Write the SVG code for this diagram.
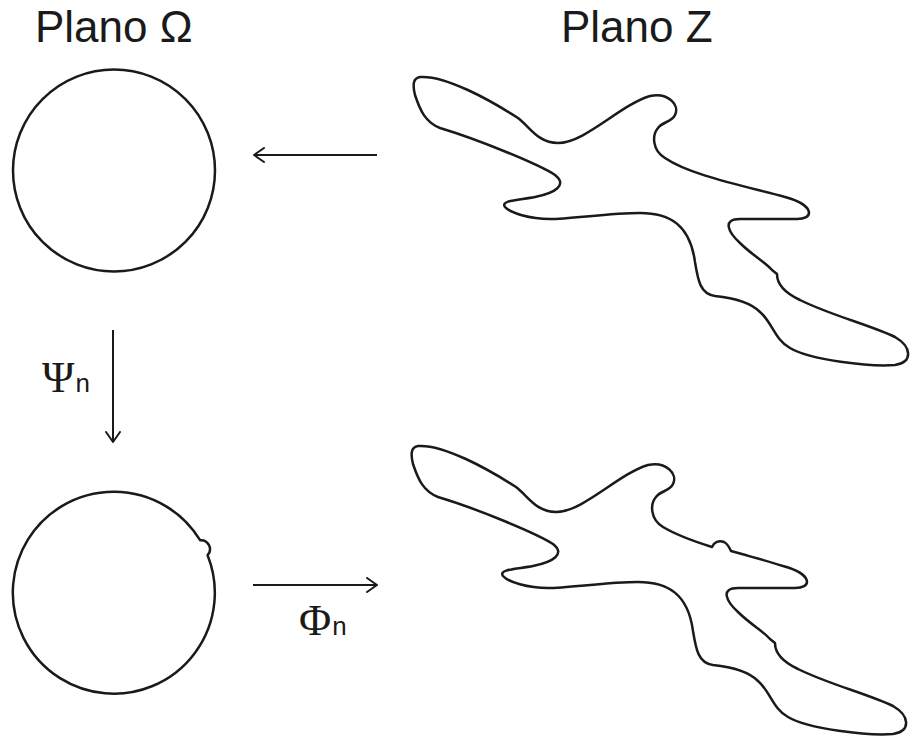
<svg xmlns="http://www.w3.org/2000/svg" width="911" height="738" viewBox="0 0 911 738">
<style>
.ln{fill:none;stroke:#1a1a1a;stroke-width:2.5;stroke-linejoin:round;stroke-linecap:round}
.ar{fill:none;stroke:#1a1a1a;stroke-width:2}
.title{font-family:"Liberation Sans",Arial,sans-serif;font-size:44px;fill:#1a1a1a}
.greek{font-family:"Liberation Serif","Times New Roman",serif;font-size:44px;fill:#1a1a1a}
.sub{font-family:"Liberation Sans",Arial,sans-serif;font-size:26px;fill:#1a1a1a}
</style>
<defs>
<marker id="ah" viewBox="0 0 12 16" refX="11" refY="8" markerWidth="12" markerHeight="16" markerUnits="userSpaceOnUse" orient="auto">
<path d="M1,1 L11,8 L1,15" fill="none" stroke="#1a1a1a" stroke-width="2" stroke-linecap="round" stroke-linejoin="round"/>
</marker>
</defs>
<rect width="911" height="738" fill="#fff"/>
<g id="title-omega"><text class="title" x="35" y="42">Plano Ω</text></g>
<g id="title-z"><text class="title" x="561" y="42">Plano Z</text></g>
<g id="circle-top"><circle class="ln" cx="114" cy="170.5" r="101"/></g>
<g id="circle-bottom"><path class="ln" d="M207.6,555.2 A101,101 0 1 1 200.1,540.2 A9,9 0 0 1 207.6,555.2 Z"/></g>
<g id="blob-top"><path class="ln" d="M420,77 C445,75 490,100 518,118 C530,127 538,143 558,143 C585,143 620,105 650,96 C668,92 680,105 675,115 C672,122 662,122 658,128 C652,135 652,150 665,158 C690,175 740,185 785,197 C815,205 815,220 795,219 L740,219 C722,219 728,232 740,243 C752,255 765,262 772,270 L777,274 C777,285 785,293 800,300 C830,315 870,325 895,337 C912,347 913,362 895,365 C870,367 810,360 790,348 C775,340 772,322 760,312 C750,302 735,298 715,296 C700,294 698,280 695,262 C690,225 670,213 640,213 C610,213 570,219 550,219 C530,219 510,213 505,207 C500,200 520,200 535,197 C555,193 568,185 555,175 C540,165 480,140 440,128 C425,122 420,110 415,95 C412,83 414,78 420,77 Z"/></g>
<g id="blob-bottom" transform="translate(-2,369)"><path class="ln" d="M420,77 C445,75 490,100 518,118 C530,127 538,143 558,143 C585,143 620,105 650,96 C668,92 680,105 675,115 C672,122 662,122 658,128 C652,135 652,150 665,158 C680,167 698,173 714,178 C716,173 721,171 726,173 C730,175 731,178 733,182 C750,187 770,192 785,197 C815,205 815,220 795,219 L740,219 C722,219 728,232 740,243 C752,255 765,262 772,270 L777,274 C777,285 785,293 800,300 C830,315 870,325 895,337 C912,347 913,362 895,365 C870,367 810,360 790,348 C775,340 772,322 760,312 C750,302 735,298 715,296 C700,294 698,280 695,262 C690,225 670,213 640,213 C610,213 570,219 550,219 C530,219 510,213 505,207 C500,200 520,200 535,197 C555,193 568,185 555,175 C540,165 480,140 440,128 C425,122 420,110 415,95 C412,83 414,78 420,77 Z"/></g>
<g id="connectors">
<line class="ar" x1="377" y1="155" x2="254" y2="155" marker-end="url(#ah)"/>
<line class="ar" x1="113" y1="330" x2="113" y2="442" marker-end="url(#ah)"/>
<line class="ar" x1="253" y1="585" x2="377" y2="585" marker-end="url(#ah)"/>
</g>
<g id="label-psi"><text x="42" y="392"><tspan class="greek">Ψ</tspan><tspan class="sub" dx="1">n</tspan></text></g>
<g id="label-phi"><text x="299" y="635"><tspan class="greek">Φ</tspan><tspan class="sub" dx="1">n</tspan></text></g>
</svg>
